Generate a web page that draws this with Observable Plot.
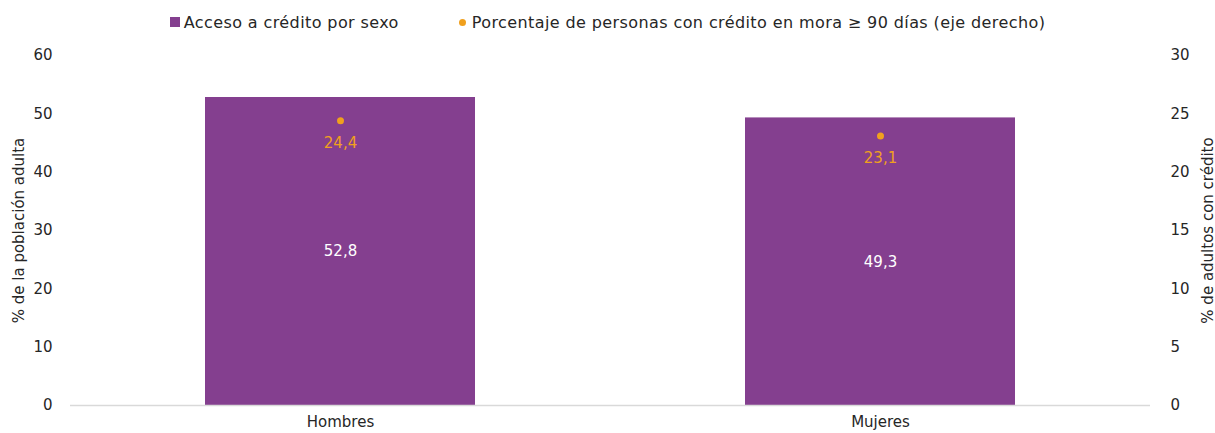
<!DOCTYPE html>
<html><head><meta charset="utf-8">
<script src="https://cdn.jsdelivr.net/npm/d3@7"></script>
<script src="https://cdn.jsdelivr.net/npm/@observablehq/plot@0.6"></script>
<style>
body{margin:0;background:#fff;font-family:"DejaVu Sans",sans-serif;overflow:hidden;}
#legend{height:40px;display:flex;align-items:center;justify-content:center;font-size:16px;letter-spacing:0.4px;color:#262626;padding-top:4px;box-sizing:border-box;}
.it{display:flex;align-items:center;}
.sq{width:10px;height:10px;background:#843F8F;margin-right:4px;}
.dt{width:7px;height:7px;border-radius:50%;background:#F0A01E;margin-right:6px;}
</style></head>
<body>
<div id="legend"><div class="it" style="margin-right:60px"><span class="sq"></span>Acceso a crédito por sexo</div><div class="it"><span class="dt"></span>Porcentaje de personas con crédito en mora ≥ 90 días (eje derecho)</div></div>
<div id="chart"></div>
<script>
const categories = ["Hombres", "Mujeres"];
const accesoCredito = [52.8, 49.3];
const moraPct = [24.4, 23.1];
const leftTicks = [0, 10, 20, 30, 40, 50, 60];
const rightTicks = [0, 5, 10, 15, 20, 25, 30];

const fmt = d => d.toFixed(1).replace(".", ",");
const data = categories.map((c, i) => ({cat: c, acc: accesoCredito[i], mora: moraPct[i], moraScaled: moraPct[i] * 2}));

const chart = Plot.plot({
  width: 1215,
  height: 393,
  marginLeft: 70,
  marginRight: 65,
  marginTop: 15,
  marginBottom: 28,
  style: {fontFamily: "DejaVu Sans, sans-serif", fontSize: "15px", color: "#262626"},
  x: {domain: categories, paddingInner: 0.5, paddingOuter: 0.25, label: null},
  y: {domain: [0, 60]},
  marks: [
    Plot.barY(data, {x: "cat", y: "acc", fill: "#843F8F"}),
    Plot.ruleY([0], {stroke: "#d9d9d9", strokeWidth: 1.5}),
    Plot.text(data, {x: "cat", y: d => d.acc / 2, text: d => fmt(d.acc), fill: "white", fontSize: 15}),
    Plot.dot(data, {x: "cat", y: "moraScaled", r: 3.5, fill: "#F0A01E"}),
    Plot.text(data, {x: "cat", y: "moraScaled", text: d => fmt(d.mora), fill: "#F0A01E", fontSize: 15, dy: 22}),
    Plot.axisX({tickSize: 0, tickPadding: 11, label: null, fontSize: 15}),
    Plot.axisY({anchor: "left", ticks: leftTicks, tickSize: 0, tickPadding: 18, label: "% de la población adulta", labelAnchor: "center", labelArrow: "none", labelOffset: 57, fontSize: 15}),
    Plot.axisY({anchor: "right", ticks: rightTicks.map(t => t * 2), tickFormat: d => String(d / 2), tickSize: 0, tickPadding: 20, label: "% de adultos con crédito", labelAnchor: "center", labelArrow: "none", labelOffset: 62, fontSize: 15})
  ]
});
document.getElementById("chart").appendChild(chart);
</script>
</body></html>
